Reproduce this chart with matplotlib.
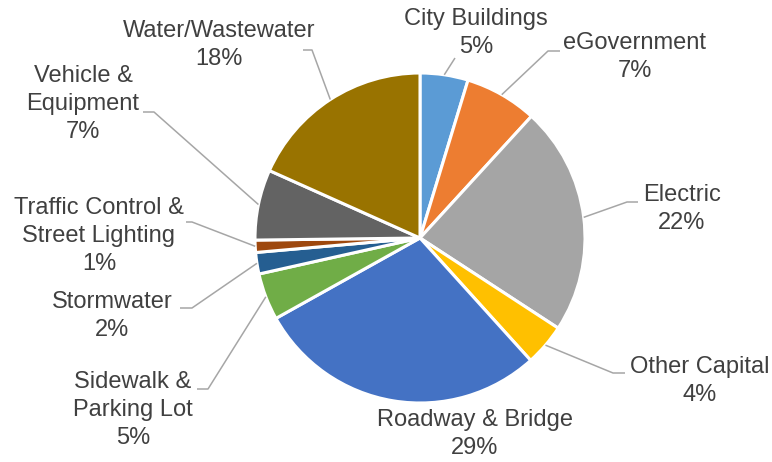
import numpy as np
import matplotlib.pyplot as plt

# 数据
categories = ['City Buildings', 'eGovernment', 'Electric', 'Other Capital',
              'Roadway & Bridge', 'Sidewalk &\nParking Lot', 'Stormwater',
              'Traffic Control &\nStreet Lighting', 'Vehicle &\nEquipment',
              'Water/Wastewater']
shares = [4.7, 7.1, 22.4, 4.1, 28.6, 4.6, 2.1, 1.2, 6.9, 18.3]
colors = ['#5B9BD5', '#ED7D31', '#A5A5A5', '#FFC000', '#4472C4',
          '#70AD47', '#255E91', '#9E480E', '#636363', '#997300']

W, H = 772, 462
cx, cy, R = 420, 238, 165

# 标签位置（像素，y 向下），以及引线折点/终点
label_pos = [(476, 33), (635, 57), (682, 209), (700, 381), (475, 434),
             (133, 410), (112, 316), (99, 236), (83, 104), (219, 45)]
leader = [
    [(455, 58)],
    [(548, 51), (560, 51)],
    [(627, 202), (638, 202)],
    [(613, 373), (625, 373)],
    None,
    [(208, 389), (197, 389)],
    [(192, 308), (180, 308)],
    [(192, 222), (186, 222)],
    [(154, 112), (143, 112)],
    [(312, 50), (303, 50)],
]


def py(y):
    return H - y


fig = plt.figure(figsize=(W / 100, H / 100), dpi=100)
ax = fig.add_axes([0, 0, 1, 1])

wedges, _ = ax.pie(shares, colors=colors, startangle=90, counterclock=False,
                   center=(cx, py(cy)), radius=R,
                   wedgeprops=dict(edgecolor='white', linewidth=2.2))
# pie 会重设坐标范围，放在后面
ax.set_xlim(0, W)
ax.set_ylim(0, H)
ax.set_aspect('equal')
ax.axis('off')

total = sum(shares)
for i, w in enumerate(wedges):
    mid = np.deg2rad((w.theta1 + w.theta2) / 2)
    lx, ly = label_pos[i]
    txt = '{}\n{:.0f}%'.format(categories[i], shares[i] / total * 100)
    ax.text(lx, py(ly), txt, ha='center', va='center', multialignment='center',
            fontsize=17, color='#404040', family='Liberation Sans', linespacing=1.35)
    if leader[i] is not None:
        xs = [cx + R * np.cos(mid)] + [p[0] for p in leader[i]]
        ys = [py(cy) + R * np.sin(mid)] + [py(p[1]) for p in leader[i]]
        ax.plot(xs, ys, color='#A6A6A6', lw=1.1, solid_capstyle='butt')

fig.savefig('out.png', dpi=100)
